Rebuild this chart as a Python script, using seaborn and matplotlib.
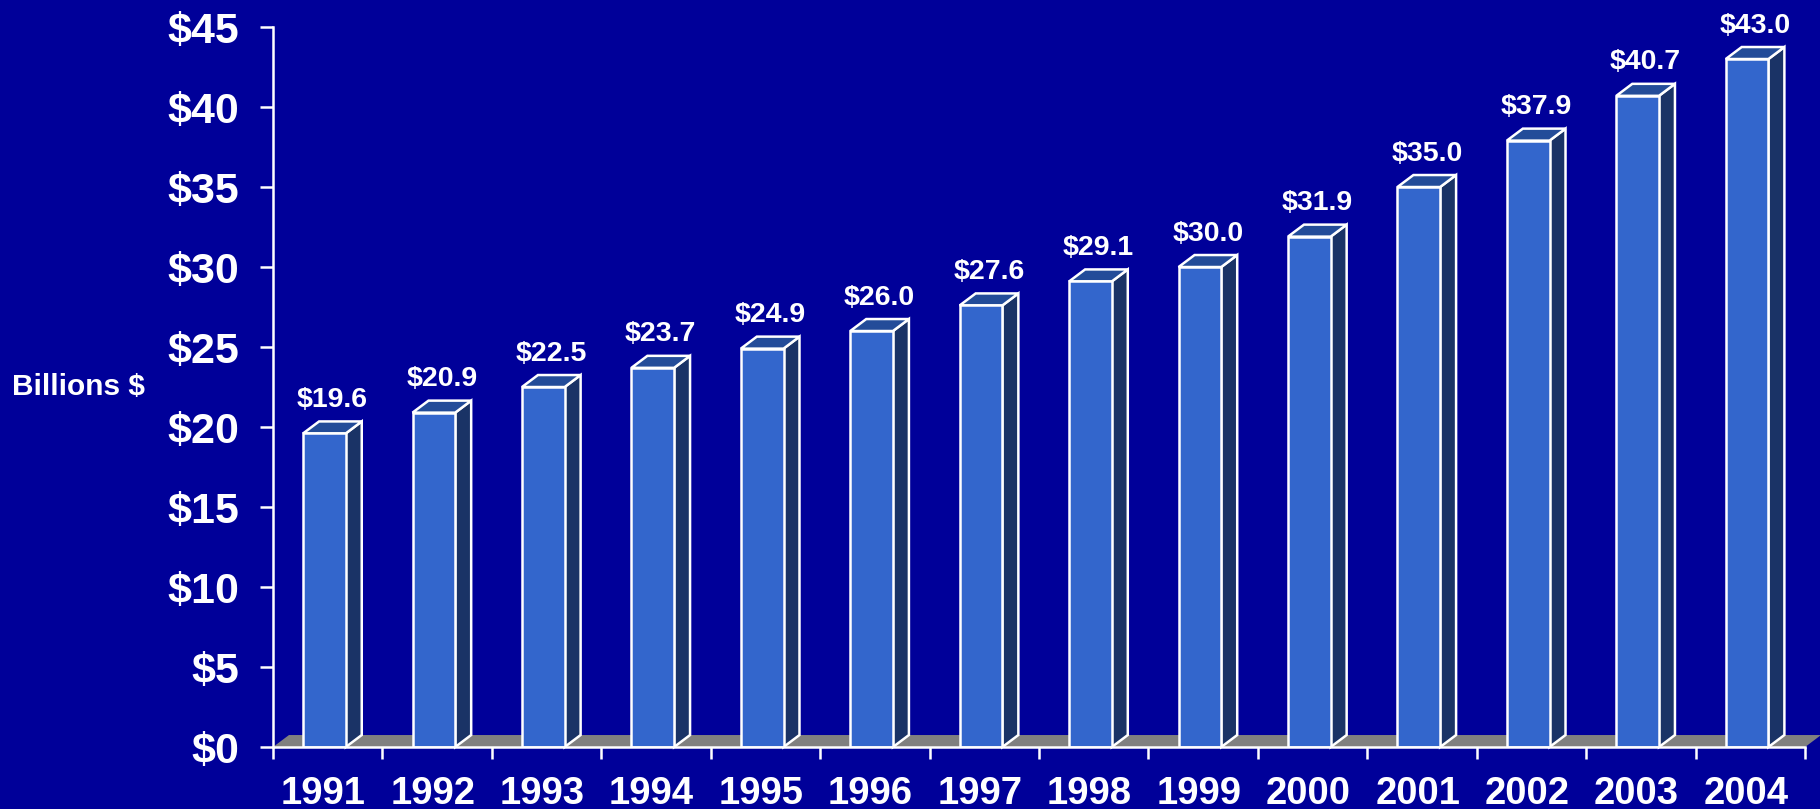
import numpy as np
import matplotlib
matplotlib.use('Agg')
import matplotlib.pyplot as plt
from matplotlib.patches import Polygon
from matplotlib.ticker import FixedLocator
import seaborn as sns
import pandas as pd

# Data (billions of dollars)
years = ['1991', '1992', '1993', '1994', '1995', '1996', '1997',
         '1998', '1999', '2000', '2001', '2002', '2003', '2004']
values = [19.6, 20.9, 22.5, 23.7, 24.9, 26.0, 27.6,
          29.1, 30.0, 31.9, 35.0, 37.9, 40.7, 43.0]
y_ticks = [0, 5, 10, 15, 20, 25, 30, 35, 40, 45]
y_tick_labels = ['$' + str(t) for t in y_ticks]
y_label = 'Billions $'

df = pd.DataFrame({'year': years, 'value': values})

# colours
bg = '#000099'
front_col = '#3366CC'
side_col = '#1A3366'
top_col = '#234C99'
floor_col = '#808080'

sns.set_style('white')
plt.rcParams['font.family'] = ['Liberation Sans', 'DejaVu Sans']
plt.rcParams['font.weight'] = 'bold'

fig = plt.figure(figsize=(18.2, 8.09), dpi=100, facecolor=bg)
ax = fig.add_axes([0.15, 0.0766, 0.8418, 0.89])
ax.set_facecolor(bg)

# depth of the fake 3D effect, in data units (16 px across, 12 px up)
dx = 0.146
dy = 0.75
shift = -0.03

sns.barplot(data=df, x='year', y='value', color=front_col, width=0.39,
            saturation=1, edgecolor='white', linewidth=1.8, ax=ax, zorder=3)

ax.set_xlim(-0.5, len(years) - 0.5)
ax.set_ylim(0, 45)

# floor
floor = Polygon([(-0.5, 0), (len(years) - 0.5, 0),
                 (len(years) - 0.5 + dx, dy), (-0.5 + dx, dy)],
                closed=True, facecolor=floor_col, edgecolor='none',
                zorder=1, clip_on=False)
ax.add_patch(floor)

for p, v in zip(ax.patches[:len(values)], values):
    p.set_x(p.get_x() + shift)
    x0 = p.get_x()
    x1 = x0 + p.get_width()
    h = p.get_height()
    side = Polygon([(x1, 0), (x1 + dx, dy), (x1 + dx, h + dy), (x1, h)],
                   closed=True, facecolor=side_col, edgecolor='white',
                   linewidth=1.8, zorder=2, clip_on=False)
    top = Polygon([(x0, h), (x1, h), (x1 + dx, h + dy), (x0 + dx, h + dy)],
                  closed=True, facecolor=top_col, edgecolor='white',
                  linewidth=1.8, zorder=2, clip_on=False)
    ax.add_patch(side)
    ax.add_patch(top)
    ax.annotate('$%.1f' % v, xy=((x0 + x1 + dx) / 2, h + dy),
                xytext=(0, 6), textcoords='offset points',
                ha='center', va='bottom', color='white',
                fontsize=20.5, fontweight='bold', zorder=5,
                annotation_clip=False)

# axes styling
for s in ['top', 'right']:
    ax.spines[s].set_visible(False)
for s in ['left', 'bottom']:
    ax.spines[s].set_color('white')
    ax.spines[s].set_linewidth(1.8)
    ax.spines[s].set_zorder(4)

ax.set_yticks(y_ticks)
ax.set_yticklabels(y_tick_labels)
ax.tick_params(axis='y', colors='white', length=9.5, width=1.8,
               pad=15, labelsize=31, direction='out', left=True)

ax.set_xticks(np.arange(len(years)) - 0.04)
ax.set_xticklabels(years)
ax.xaxis.set_minor_locator(FixedLocator(np.arange(len(years) + 1) - 0.5))
ax.tick_params(axis='x', which='major', colors='white', length=0,
               pad=21, labelsize=27.5)
ax.tick_params(axis='x', which='minor', colors='white', length=8.6,
               width=1.8, direction='out', bottom=True)
for lbl in ax.get_xticklabels() + ax.get_yticklabels():
    lbl.set_fontweight('bold')

ax.set_xlabel('')
ax.set_ylabel('')
fig.text(12 / 1820, 1 - 387 / 809, y_label, color='white', fontsize=21.5,
         fontweight='bold', ha='left', va='center')

fig.savefig('out.png', dpi=100, facecolor=bg)
